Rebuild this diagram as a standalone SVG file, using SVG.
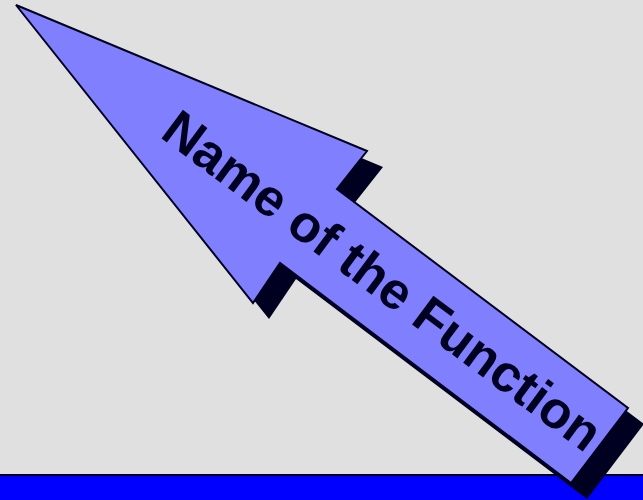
<svg xmlns="http://www.w3.org/2000/svg" width="643" height="500" viewBox="0 0 643 500">
<style>
.shadow{fill:#000020;stroke:none}
.arrow{fill:#8080FF;stroke:#000020;stroke-width:2;stroke-linejoin:miter}
.label{font-family:"Liberation Sans",Arial,sans-serif;font-weight:bold;font-size:52px;fill:#000020}
</style>
<defs>
<polygon id="arrowShape" points="16,5 367,151 337,189 628,408 571,483 280,263 253,303"/>
</defs>
<rect x="0" y="0" width="643" height="500" fill="#E0E0E0"/>
<g id="base-bar">
<rect x="-2" y="475" width="647" height="30" fill="#0000FF" stroke="#000020" stroke-width="2"/>
</g>
<g id="function-arrow">
<use href="#arrowShape" class="shadow" transform="translate(16,16)"/>
<use href="#arrowShape" class="arrow"/>
<text class="label" x="0" y="0" text-anchor="middle" transform="translate(372,295) rotate(36.6)">Name of the Function</text>
</g>
</svg>
